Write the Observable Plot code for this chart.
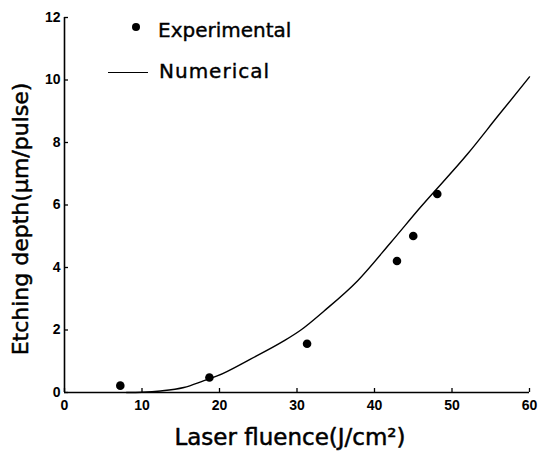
<!DOCTYPE html>
<html>
<head>
<meta charset="utf-8">
<script src="https://cdn.jsdelivr.net/npm/d3@7"></script>
<script src="https://cdn.jsdelivr.net/npm/@observablehq/plot@0.6"></script>
<style>
  html, body { margin: 0; padding: 0; background: #fff; }
  #wrap { position: relative; width: 538px; height: 455px; }
  .leg { position: absolute; font-family: "DejaVu Sans", sans-serif; font-size: 20px; color: #000; line-height: 1; white-space: nowrap; -webkit-text-stroke: 0.4px #000; }
  .dot { position: absolute; width: 8px; height: 8px; border-radius: 50%; background: #000; }
  .ln { position: absolute; height: 0; border-top: 1.3px solid #000; }
</style>
</head>
<body>
<div id="wrap"></div>
<script>
// Experimental points
const expX = [7.2, 18.7, 31.3, 42.9, 45.0, 48.1];
const expY = [0.22, 0.48, 1.56, 4.21, 5.01, 6.35];
// Numerical curve
const numX = [8, 10, 12.4, 15.4, 18, 19.7, 24, 28.3, 30.5, 33.5, 37.8, 42.1, 45.9, 52, 56, 60];
const numY = [0, 0.01, 0.05, 0.16, 0.38, 0.53, 1.07, 1.65, 2.0, 2.61, 3.57, 4.80, 5.92, 7.63, 8.87, 10.1];
// Ticks
const xTicks = [0, 10, 20, 30, 40, 50, 60];
const yTicks = [0, 2, 4, 6, 8, 10, 12];
const xLabel = "Laser fluence(J/cm²)";
const yLabel = "Etching depth(μm/pulse)";
const legendLabels = ["Experimental", "Numerical"];

const expData = expX.map((x, i) => ({x, y: expY[i]}));
const numData = numX.map((x, i) => ({x, y: numY[i]}));

const W = 538, H = 455, mL = 64, mR = 9, mT = 17, mB = 63;
const frameW = W - mL - mR, frameH = H - mT - mB;

const chart = Plot.plot({
  width: W,
  height: H,
  marginLeft: mL,
  marginRight: mR,
  marginTop: mT,
  marginBottom: mB,
  style: {fontFamily: "Liberation Sans, Arial, sans-serif", color: "#000", background: "#fff"},
  x: {domain: [0, 60], ticks: xTicks},
  y: {domain: [0, 12], ticks: yTicks},
  marks: [
    Plot.axisX({ticks: xTicks, tickSize: 0, tickPadding: 8, label: null, fontSize: 14, fontWeight: "bold", fill: "#000"}),
    Plot.axisY({ticks: yTicks, tickSize: 0, tickPadding: 4, label: null, fontSize: 14, fontWeight: "bold", fill: "#000"}),
    Plot.tickX(xTicks, {x: d => d, insetTop: frameH - 4, stroke: "#000", strokeWidth: 1.3}),
    Plot.tickY(yTicks, {y: d => d, insetRight: frameW - 4, stroke: "#000", strokeWidth: 1.3}),
    Plot.ruleX([0], {stroke: "#000", strokeWidth: 1.6}),
    Plot.ruleY([0], {stroke: "#000", strokeWidth: 1.6}),
    Plot.line(numData, {x: "x", y: "y", curve: "monotone-x", stroke: "#000", strokeWidth: 1.4}),
    Plot.dot(expData, {x: "x", y: "y", r: 4.3, fill: "#000", stroke: "none"}),
    Plot.text([xLabel], {text: d => d, frameAnchor: "bottom", lineAnchor: "bottom", textAnchor: "middle",
      dx: -7, dy: 52, fontSize: 23, fontWeight: "normal", fontFamily: "DejaVu Sans, sans-serif", fill: "#000",
      stroke: "#000", strokeWidth: 0.5, style: "letter-spacing:2.3px"}),
    Plot.text([yLabel], {text: d => d, frameAnchor: "left", lineAnchor: "bottom", textAnchor: "middle", rotate: -90,
      dx: -37, dy: 14, fontSize: 22, fontWeight: "normal", fontFamily: "DejaVu Sans, sans-serif", fill: "#000",
      stroke: "#000", strokeWidth: 0.5})
  ]
});

const wrap = document.getElementById("wrap");
wrap.appendChild(chart);

// Legend (HTML overlay)
const d1 = document.createElement("div"); d1.className = "dot"; d1.style.left = "132px"; d1.style.top = "23px"; wrap.appendChild(d1);
const t1 = document.createElement("div"); t1.className = "leg"; t1.textContent = legendLabels[0]; t1.style.left = "158px"; t1.style.top = "20px"; wrap.appendChild(t1);
const l2 = document.createElement("div"); l2.className = "ln"; l2.style.left = "108px"; l2.style.width = "40px"; l2.style.top = "72px"; wrap.appendChild(l2);
const t2 = document.createElement("div"); t2.className = "leg"; t2.textContent = legendLabels[1]; t2.style.left = "159px"; t2.style.top = "61px"; t2.style.letterSpacing = "1px"; wrap.appendChild(t2);
</script>
</body>
</html>
